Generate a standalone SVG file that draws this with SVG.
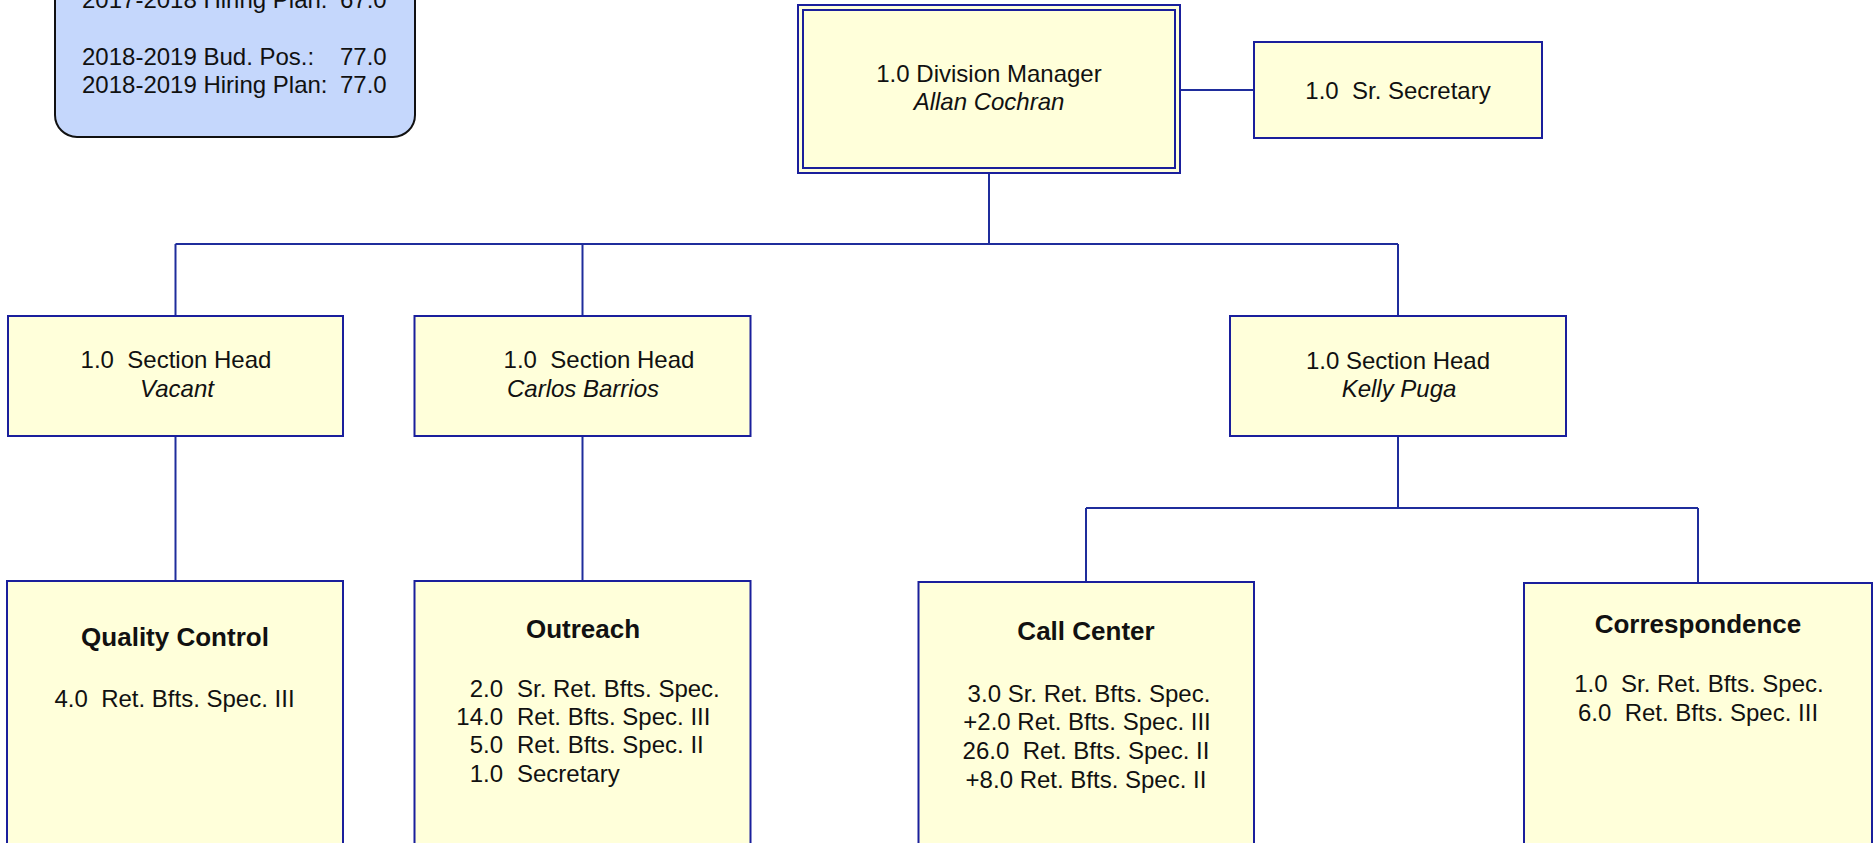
<svg xmlns="http://www.w3.org/2000/svg" width="1874" height="843" viewBox="0 0 1874 843">
  <style>
    .box { fill: #ffffda; stroke: #1a1f9c; stroke-width: 2; }
    .legend { fill: #c5d7fc; stroke: #111111; stroke-width: 2; }
    .conn { fill: none; stroke: #1f2d9c; stroke-width: 2; }
    text { font-family: "Liberation Sans", Arial, sans-serif; font-size: 24px; fill: #111111; }
    .mid { text-anchor: middle; }
    .end { text-anchor: end; }
    .name { font-style: italic; }
    .title { font-weight: bold; font-size: 26px; }
  </style>

  <!-- budget summary -->
  <g id="legend">
    <rect class="legend" x="55" y="-80" width="360" height="217" rx="22" ry="22"/>
    <text x="82" y="8.4">2017-2018 Hiring Plan:</text>
    <text x="340" y="8.4">67.0</text>
    <text x="82" y="65">2018-2019 Bud. Pos.:</text>
    <text x="340" y="65">77.0</text>
    <text x="82" y="93.3">2018-2019 Hiring Plan:</text>
    <text x="340" y="93.3">77.0</text>
  </g>

  <!-- reporting lines -->
  <g id="connectors">
    <path class="conn" d="M1180 90 H1254"/>
    <path class="conn" d="M989 173 V244"/>
    <path class="conn" d="M175.5 244 H1398"/>
    <path class="conn" d="M175.5 244 V316"/>
    <path class="conn" d="M582.5 244 V316"/>
    <path class="conn" d="M1398 244 V316"/>
    <path class="conn" d="M175.5 436 V581"/>
    <path class="conn" d="M582.5 436 V581"/>
    <path class="conn" d="M1398 436 V508"/>
    <path class="conn" d="M1086 508 H1698"/>
    <path class="conn" d="M1086 508 V582"/>
    <path class="conn" d="M1698 508 V583"/>
  </g>

  <g id="division-manager">
    <rect class="box" x="798" y="5" width="382" height="168"/>
    <rect class="box" x="803" y="10" width="372" height="158"/>
    <text class="mid" x="989" y="82">1.0 Division Manager</text>
    <text class="mid name" x="989" y="110">Allan Cochran</text>
  </g>

  <g id="sr-secretary">
    <rect class="box" x="1254" y="42" width="288" height="96"/>
    <text class="mid" x="1398" y="98.5" xml:space="preserve">1.0  Sr. Secretary</text>
  </g>

  <g id="section-head-vacant">
    <rect class="box" x="8" y="316" width="335" height="120"/>
    <text class="mid" x="176" y="368" xml:space="preserve">1.0  Section Head</text>
    <text class="mid name" x="177" y="397">Vacant</text>
  </g>

  <g id="section-head-barrios">
    <rect class="box" x="414.5" y="316" width="336" height="120"/>
    <text class="mid" x="599" y="368" xml:space="preserve">1.0  Section Head</text>
    <text class="mid name" x="583" y="397">Carlos Barrios</text>
  </g>

  <g id="section-head-puga">
    <rect class="box" x="1230" y="316" width="336" height="120"/>
    <text class="mid" x="1398" y="369">1.0 Section Head</text>
    <text class="mid name" x="1399" y="397">Kelly Puga</text>
  </g>

  <g id="quality-control">
    <rect class="box" x="7" y="581" width="336" height="320"/>
    <text class="mid title" x="175" y="646">Quality Control</text>
    <text class="mid" x="174.5" y="707" xml:space="preserve">4.0  Ret. Bfts. Spec. III</text>
  </g>

  <g id="outreach">
    <rect class="box" x="414.5" y="581" width="336" height="320"/>
    <text class="mid title" x="583" y="638">Outreach</text>
    <text class="end" x="503" y="697">2.0</text>
    <text x="517" y="697">Sr. Ret. Bfts. Spec.</text>
    <text class="end" x="503" y="725">14.0</text>
    <text x="517" y="725">Ret. Bfts. Spec. III</text>
    <text class="end" x="503" y="753">5.0</text>
    <text x="517" y="753">Ret. Bfts. Spec. II</text>
    <text class="end" x="503" y="782">1.0</text>
    <text x="517" y="782">Secretary</text>
  </g>

  <g id="call-center">
    <rect class="box" x="918.5" y="582" width="335.5" height="320"/>
    <text class="mid title" x="1086" y="640">Call Center</text>
    <text class="mid" x="1089" y="702">3.0 Sr. Ret. Bfts. Spec.</text>
    <text class="mid" x="1087" y="730">+2.0 Ret. Bfts. Spec. III</text>
    <text class="mid" x="1086" y="759" xml:space="preserve">26.0  Ret. Bfts. Spec. II</text>
    <text class="mid" x="1086" y="788">+8.0 Ret. Bfts. Spec. II</text>
  </g>

  <g id="correspondence">
    <rect class="box" x="1524" y="583" width="348" height="320"/>
    <text class="mid title" x="1698" y="633">Correspondence</text>
    <text class="mid" x="1699" y="692" xml:space="preserve">1.0  Sr. Ret. Bfts. Spec.</text>
    <text class="mid" x="1698" y="721" xml:space="preserve">6.0  Ret. Bfts. Spec. III</text>
  </g>
</svg>
